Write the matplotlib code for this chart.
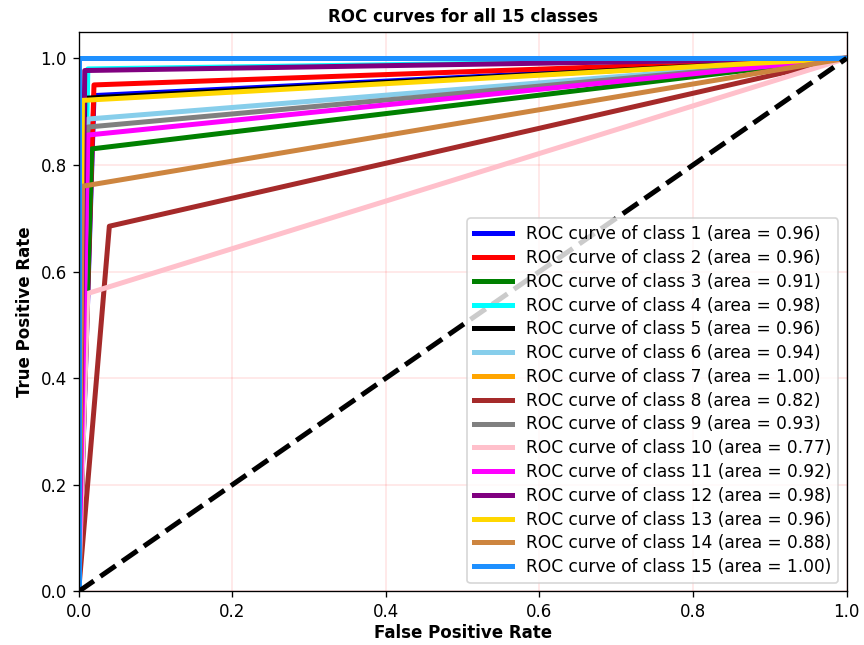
import numpy as np
import matplotlib
matplotlib.use('Agg')
import matplotlib.pyplot as plt

# operating point (fpr, tpr) for each class; each curve runs (0,0) -> point -> (1,1)
classes = list(range(1, 16))
fpr_pts = [0.020, 0.020, 0.017, 0.012, 0.008, 0.012, 0.000, 0.040,
           0.012, 0.012, 0.012, 0.008, 0.005, 0.005, 0.000]
tpr_pts = [0.930, 0.950, 0.830, 0.980, 0.925, 0.886, 1.000, 0.685,
           0.871, 0.559, 0.856, 0.977, 0.921, 0.760, 1.000]
colors = ['blue', 'red', 'green', 'cyan', 'black', 'skyblue', 'orange', 'brown',
          'gray', 'pink', 'magenta', 'purple', 'gold', 'peru', 'dodgerblue']

fig, ax = plt.subplots(figsize=(7.2, 5.375), dpi=120)

for c, f, t, col in zip(classes, fpr_pts, tpr_pts, colors):
    fpr = np.array([0.0, f, 1.0])
    tpr = np.array([0.0, t, 1.0])
    roc_auc = np.trapezoid(tpr, fpr)
    ax.plot(fpr, tpr, color=col, lw=3,
            label='ROC curve of class {0} (area = {1:0.2f})'.format(c, roc_auc))

ax.plot([0, 1], [0, 1], 'k--', lw=3)
ax.set_xlim([0.0, 1.0])
ax.set_ylim([0.0, 1.05])
ax.grid(color='red', alpha=0.1, lw=1)
ax.set_xlabel('False Positive Rate', fontweight='bold', labelpad=2)
ax.set_ylabel('True Positive Rate', fontweight='bold')
ax.set_title('ROC curves for all 15 classes', fontweight='bold', fontsize=10)
ax.legend(loc='lower right', fontsize=10.2, labelspacing=0.34, handlelength=2.25)

fig.subplots_adjust(left=0.091, right=0.980, top=0.951, bottom=0.083)
fig.savefig('out.png', dpi=120)
